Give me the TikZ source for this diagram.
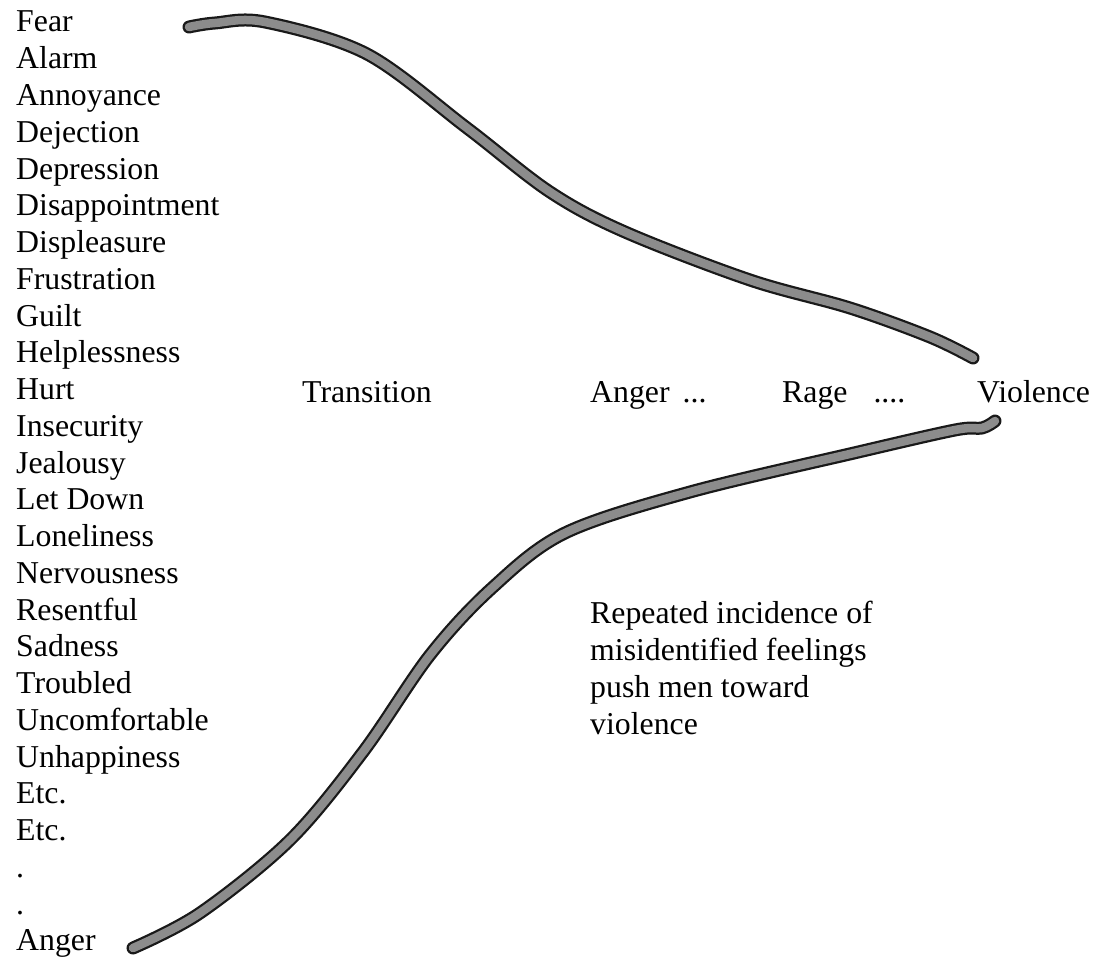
\documentclass[tikz,border=0pt]{standalone}
\usepackage{fontspec}
\setmainfont{Liberation Serif}
\begin{document}
\begin{tikzpicture}[x=1pt,y=-1pt,
  txt/.style={inner sep=0pt,anchor=base west,font=\fontsize{31.8}{36.7}\selectfont},
  para/.style={inner sep=0pt,anchor=base west,align=left,font=\fontsize{31.8}{37}\selectfont},
  stroke/.style={line width=13pt,line cap=round,line join=round,draw=black!90,
    postaction={draw=black!45,line width=8.5pt}}]
\useasboundingbox (0,0) rectangle (1096,958);
\fill[white] (0,0) rectangle (1096,958);
% left list
\foreach \t [count=\i from 0] in {Fear,Alarm,Annoyance,Dejection,Depression,Disappointment,Displeasure,Frustration,Guilt,Helplessness,Hurt,Insecurity,Jealousy,Let Down,Loneliness,Nervousness,Resentful,Sadness,Troubled,Uncomfortable,Unhappiness,Etc.,Etc.,.,.,Anger}
  \node[txt] (l\i) at (16,{32+\i*36.75}) {\t};
% row labels
\node[txt] (trans) at (302,402) {Transition};
\node[txt] (anger) at (590,402) {Anger\hspace{13pt}...};
\node[txt] (rage) at (782,402) {Rage\hspace{26pt}....};
\node[txt] (viol) at (977,402) {Violence};
\node[para] (note) at (590,734) {Repeated incidence of\\misidentified feelings\\push men toward\\violence};
% curves
\draw[stroke] plot[smooth,tension=0.55] coordinates {(189,27) (215,23) (265,22) (367,54) (467,128) (550,192) (625,232) (750,280) (850,308) (930,337) (973,358)};
\draw[stroke] plot[smooth,tension=0.55] coordinates {(133,948) (200,913) (290,840) (363,752) (430,655) (492,588) (565,533) (690,492) (854,453) (955,430) (982,428) (995,421)};
\end{tikzpicture}
\end{document}
